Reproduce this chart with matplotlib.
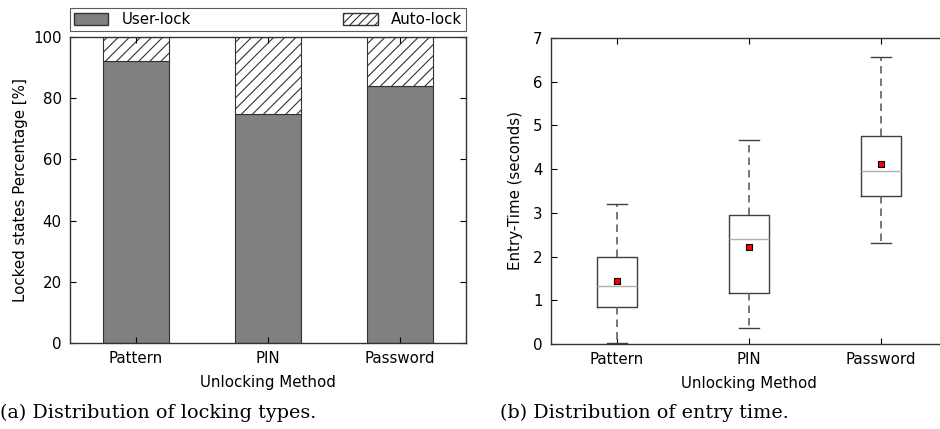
import numpy as np
import matplotlib
matplotlib.use("Agg")
import matplotlib.pyplot as plt
from matplotlib.patches import Patch

methods = ["Pattern", "PIN", "Password"]

# (a) locked states, percent
user_lock = [92, 75, 84]
auto_lock = [8, 25, 16]

# (b) entry time in seconds
whislo = [0.03, 0.37, 2.32]
q1 = [0.84, 1.17, 3.39]
med = [1.33, 2.40, 3.96]
q3 = [2.00, 2.96, 4.75]
whishi = [3.20, 4.67, 6.57]
mean = [1.45, 2.23, 4.12]

plt.rcParams['font.family'] = 'DejaVu Sans'
plt.rcParams['font.size'] = 10.8
plt.rcParams['hatch.linewidth'] = 0.8

fig = plt.figure(figsize=(9.4, 4.29), dpi=100)
W, H = 940.0, 429.0

ax1 = fig.add_axes([70 / W, 86 / H, 396 / W, 306 / H])
x = np.arange(len(methods))
ax1.bar(x, user_lock, width=0.5, color='#808080', edgecolor='#333333', lw=0.8)
ax1.bar(x, auto_lock, width=0.5, bottom=user_lock, color='white',
        edgecolor='#333333', hatch='///', lw=0.8)
ax1.set_xlim(-0.5, 2.5)
ax1.set_ylim(0, 100)
ax1.set_yticks([0, 20, 40, 60, 80, 100])
ax1.set_xticks(x)
ax1.set_xticklabels(methods)
ax1.set_xlabel("Unlocking Method", labelpad=6)
ax1.set_ylabel("Locked states Percentage [%]")
ax1.tick_params(direction='in', top=True, right=True, length=4, pad=6)
handles = [Patch(facecolor='#808080', edgecolor='#333333', label='User-lock'),
           Patch(facecolor='white', edgecolor='#333333', hatch='////', label='Auto-lock')]
leg = ax1.legend(handles=handles, loc='lower left', bbox_to_anchor=(0, 1.02, 1, 0.072),
                 mode='expand', ncol=2, borderaxespad=0, fancybox=False,
                 handlelength=2.3, handleheight=0.8, borderpad=0.25, handletextpad=0.9,
                 fontsize=10.8)
leg.get_frame().set_edgecolor('#333333')
leg.get_frame().set_linewidth(0.8)

ax2 = fig.add_axes([551 / W, 85 / H, 396 / W, 306 / H])
stats = []
for i in range(len(methods)):
    stats.append(dict(label=methods[i], whislo=whislo[i], q1=q1[i], med=med[i],
                      q3=q3[i], whishi=whishi[i], mean=mean[i], fliers=[]))
ax2.bxp(stats, positions=[1, 2, 3], widths=0.3, showmeans=True, capwidths=0.15,
        boxprops=dict(color='#404040', lw=1),
        medianprops=dict(color='#b0b0b0', lw=1),
        whiskerprops=dict(color='#606060', lw=1.2, linestyle=(0, (4.5, 3))),
        capprops=dict(color='#404040', lw=1),
        meanprops=dict(marker='s', markerfacecolor='red', markeredgecolor='black',
                       markersize=5, markeredgewidth=0.8))
ax2.set_xlim(0.5, 3.5)
ax2.set_ylim(0, 7)
ax2.set_xlabel("Unlocking Method", labelpad=6)
ax2.set_ylabel("Entry-Time (seconds)", labelpad=7)
ax2.tick_params(direction='in', top=True, right=True, length=4, pad=6)

for ax in (ax1, ax2):
    for s in ax.spines.values():
        s.set_color('#333333')
        s.set_linewidth(1)

fig.text(0 / W, 1 - 418 / H, "(a) Distribution of locking types.", family='DejaVu Serif',
         fontsize=13.8, va='baseline')
fig.text(500 / W, 1 - 418 / H, "(b) Distribution of entry time.", family='DejaVu Serif',
         fontsize=13.8, va='baseline')

fig.savefig("out.png", dpi=100)
